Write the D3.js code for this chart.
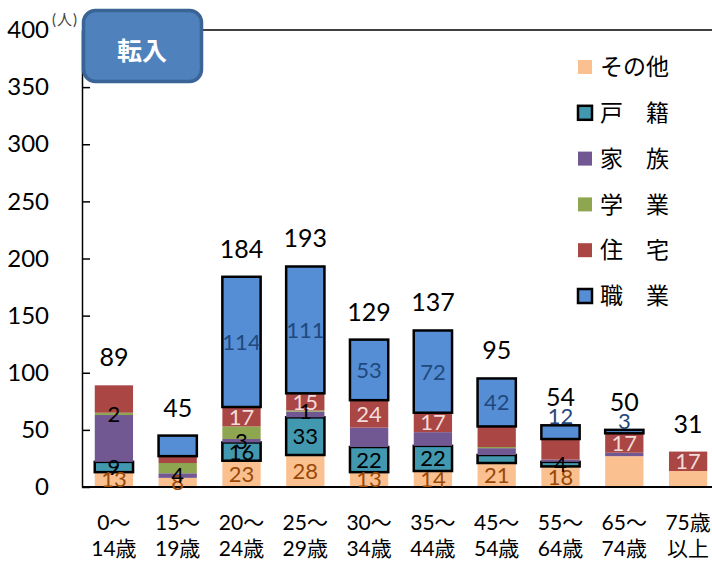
<!DOCTYPE html>
<html>
<head>
<meta charset="utf-8">
<script src="https://cdn.jsdelivr.net/npm/d3@7"></script>
<style>
  body { margin: 0; background: #fff; }
  svg { font-family: Lato, "Noto Sans CJK JP", sans-serif; }
</style>
</head>
<body>
<div id="vis"></div>
<script>
// age groups (two lines each)
var catTop = ["0～", "15～", "20～", "25～", "30～", "35～", "45～", "55～", "65～", "75歳"];
var catBottom = ["14歳", "19歳", "24歳", "29歳", "34歳", "44歳", "54歳", "64歳", "74歳", "以上"];

// series, bottom to top (null = blank cell)
var other    = [13, 8, 23, 28, 13, 14, 21, 18, 27, 14];
var koseki   = [9, null, 16, 33, 22, 22, 7, 4, 0, 0];
var kazoku   = [41, 4, 3, 5, 17, 12, 6, 2, 3, 0];
var gakugyo  = [2, 9, 11, 1, 0, 0, 1, 0, 0, 0];
var jutaku   = [24, 6, 17, 15, 24, 17, 18, 18, 17, 17];
var shokugyo = [null, 18, 114, 111, 53, 72, 42, 12, 3, null];

// which data labels the original shows
var showOther    = [1, 1, 1, 1, 1, 1, 1, 1, 0, 0];
var showKoseki   = [1, 0, 1, 1, 1, 1, 0, 1, 0, 0];
var showKazoku   = [0, 1, 1, 0, 0, 0, 0, 0, 0, 0];
var showGakugyo  = [1, 0, 0, 1, 0, 0, 0, 0, 0, 0];
var showJutaku   = [0, 0, 1, 1, 1, 1, 0, 0, 1, 1];
var showShokugyo = [0, 0, 1, 1, 1, 1, 1, 1, 1, 0];

var yTicks = [0, 50, 100, 150, 200, 250, 300, 350, 400];

var series = [
  {name: "その他", values: other, show: showOther, fill: "#fac090", label: "#984807", border: false},
  {name: "戸　籍", values: koseki, show: showKoseki, fill: "#4198af", label: "#000", border: true},
  {name: "家　族", values: kazoku, show: showKazoku, fill: "#725892", label: "#000", border: false},
  {name: "学　業", values: gakugyo, show: showGakugyo, fill: "#8ea64f", label: "#000", border: false},
  {name: "住　宅", values: jutaku, show: showJutaku, fill: "#aa4643", label: "#f2dcdb", border: false},
  {name: "職　業", values: shokugyo, show: showShokugyo, fill: "#558ed5", label: "#1f497d", border: true}
];

var width = 712, height = 564;
var svg = d3.select("#vis").append("svg")
  .attr("width", width)
  .attr("height", height);

var x = d3.scaleBand()
  .domain(d3.range(catTop.length))
  .range([82, 720])
  .paddingInner(0.4)
  .paddingOuter(0.2);

var y = d3.scaleLinear().domain([0, 400]).range([487, 30]);

// build stacked segments
var segs = [];
var totals = catTop.map(function () { return 0; });
series.forEach(function (s) {
  s.values.forEach(function (v, i) {
    if (v === null) return;
    segs.push({s: s, i: i, y0: totals[i], y1: totals[i] + v, v: v, show: s.show[i]});
    totals[i] += v;
  });
});

// frame top line
svg.append("line")
  .attr("x1", 82).attr("x2", 712)
  .attr("y1", y(400)).attr("y2", y(400))
  .attr("stroke", "#000").attr("stroke-width", 1.5);

svg.selectAll(".seg")
  .data(segs)
  .enter().append("rect")
  .attr("class", "seg")
  .attr("x", function (d) { return x(d.i); })
  .attr("width", x.bandwidth())
  .attr("y", function (d) { return y(d.y1); })
  .attr("height", function (d) { return y(d.y0) - y(d.y1); })
  .attr("fill", function (d) { return d.s.fill; })
  .attr("stroke", function (d) { return d.s.border ? "#000" : "none"; })
  .attr("stroke-width", 2.5);

// y axis with inner ticks
var yAxis = d3.axisLeft(y)
  .tickValues(yTicks)
  .tickSizeInner(-8)
  .tickSizeOuter(0)
  .tickPadding(33);

var ya = svg.append("g").attr("transform", "translate(82,0)").call(yAxis);
ya.select(".domain").attr("stroke-width", 1.5);
ya.selectAll(".tick line").attr("stroke-width", 1.5);
ya.selectAll("text")
  .attr("font-size", 24)
  .attr("font-family", "Lato, sans-serif")
  .attr("fill", "#000");

// baseline
svg.append("line")
  .attr("x1", 82).attr("x2", 712)
  .attr("y1", y(0)).attr("y2", y(0))
  .attr("stroke", "#000").attr("stroke-width", 2);

// segment labels; thin top segments get their label just above
function labelY(d) {
  var h = y(d.y0) - y(d.y1);
  if (d.s.border && h < 16 && d.s.name === "職　業") return y(d.y1) - 9;
  return (y(d.y0) + y(d.y1)) / 2;
}

svg.selectAll(".seglabel")
  .data(segs.filter(function (d) { return d.show; }))
  .enter().append("text")
  .attr("class", "seglabel")
  .attr("x", function (d) { return x(d.i) + x.bandwidth() / 2; })
  .attr("y", labelY)
  .attr("dy", "0.36em")
  .attr("text-anchor", "middle")
  .attr("font-size", 22)
  .attr("fill", function (d) { return d.s.label; })
  .text(function (d) { return d.v; });

// totals
svg.selectAll(".total")
  .data(totals)
  .enter().append("text")
  .attr("class", "total")
  .attr("x", function (d, i) { return x(i) + x.bandwidth() / 2; })
  .attr("y", function (d) { return y(d) - 19; })
  .attr("text-anchor", "middle")
  .attr("font-size", 25)
  .attr("fill", "#000")
  .text(function (d) { return d; });

// category labels
var cats = svg.selectAll(".cat")
  .data(catTop)
  .enter().append("text")
  .attr("class", "cat")
  .attr("text-anchor", "middle")
  .attr("font-size", 21)
  .attr("fill", "#000");
cats.append("tspan")
  .attr("x", function (d, i) { return x(i) + x.bandwidth() / 2; })
  .attr("y", 530)
  .text(function (d) { return d; });
cats.append("tspan")
  .attr("x", function (d, i) { return x(i) + x.bandwidth() / 2; })
  .attr("y", 556)
  .text(function (d, i) { return catBottom[i]; });

// unit
svg.append("text")
  .attr("x", 52).attr("y", 25)
  .attr("font-size", 15)
  .attr("letter-spacing", 1)
  .attr("fill", "#444")
  .text("(人)");

// title box
svg.append("rect")
  .attr("x", 83.5).attr("y", 10.5)
  .attr("width", 118).attr("height", 71)
  .attr("rx", 12)
  .attr("fill", "#4f81bd")
  .attr("stroke", "#3a6496")
  .attr("stroke-width", 3.5);
svg.append("text")
  .attr("x", 142).attr("y", 51)
  .attr("dy", "0.35em")
  .attr("text-anchor", "middle")
  .attr("font-size", 25)
  .attr("font-weight", "bold")
  .attr("font-family", "'Noto Sans CJK JP', sans-serif")
  .attr("fill", "#fff")
  .text("転入");

// legend
var legend = svg.selectAll(".legend")
  .data(series)
  .enter().append("g")
  .attr("class", "legend")
  .attr("transform", function (d, i) { return "translate(578," + (67 + i * 45.8) + ")"; });
legend.append("rect")
  .attr("x", 0).attr("y", -7)
  .attr("width", 14).attr("height", 14)
  .attr("fill", function (d) { return d.fill; })
  .attr("stroke", function (d) { return d.border ? "#000" : "none"; })
  .attr("stroke-width", 2.5);
legend.append("text")
  .attr("x", 22)
  .attr("dy", "0.36em")
  .attr("font-size", 23)
  .attr("font-family", "'Noto Sans CJK JP', sans-serif")
  .attr("fill", "#000")
  .text(function (d) { return d.name; });
</script>
</body>
</html>
